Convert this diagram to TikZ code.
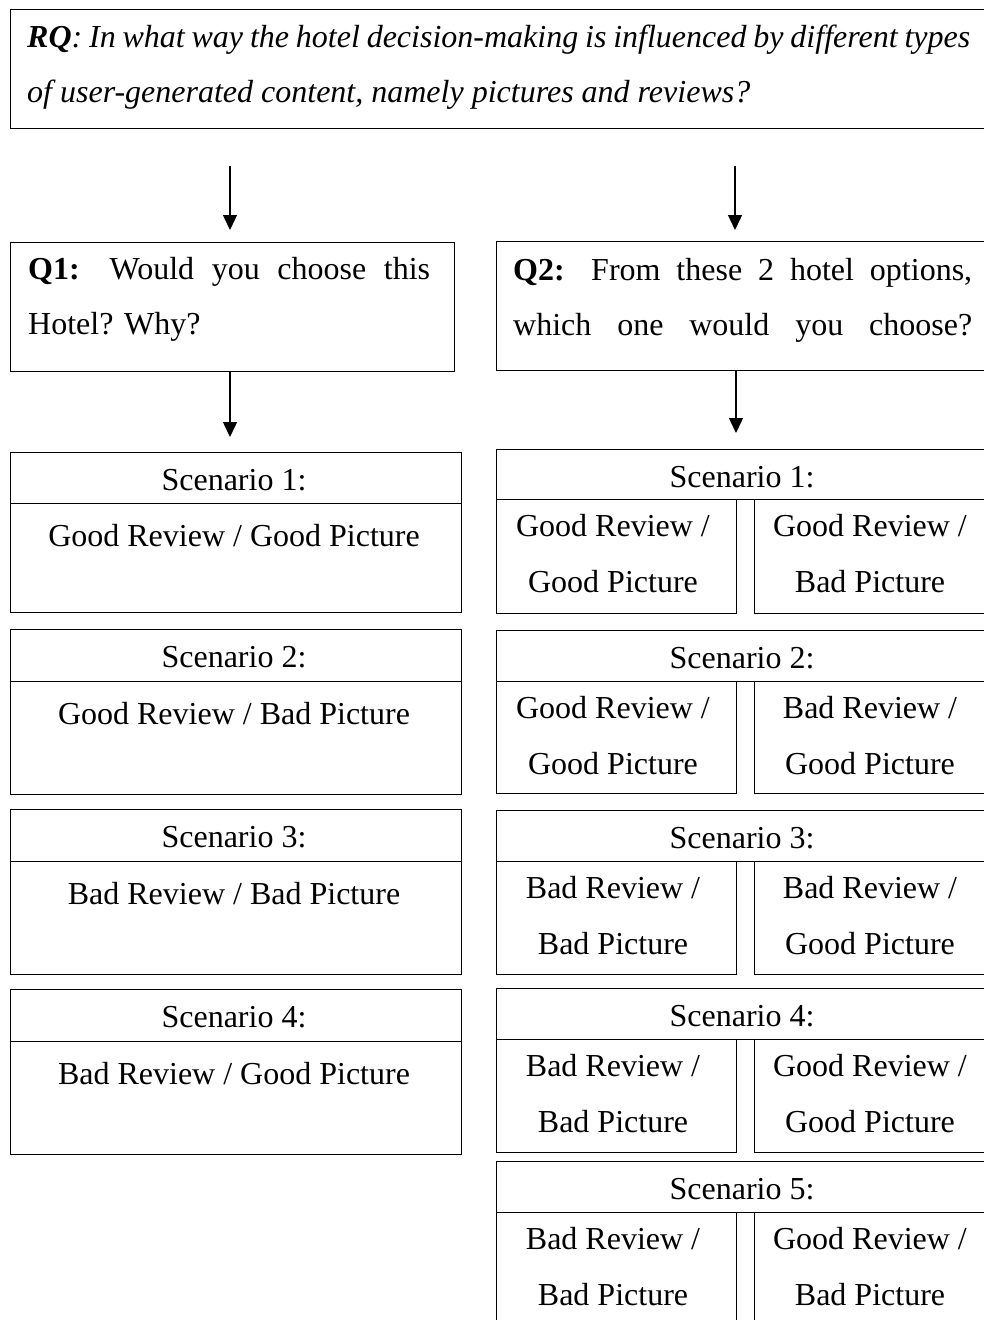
\documentclass[tikz,border=0pt]{standalone}
\usepackage{fontspec}
\setmainfont{Liberation Serif}
\usetikzlibrary{arrows.meta,calc}
\begin{document}
\begin{tikzpicture}[x=1pt,y=-1pt,
  box/.style={draw=black, line width=1.2pt, inner sep=0pt, anchor=north west},
  txt/.style={inner sep=0pt, anchor=base, font=\fontsize{32}{40}\selectfont},
  ltxt/.style={inner sep=0pt, anchor=base west, font=\fontsize{32}{40}\selectfont},
  arr/.style={line width=1.4pt, -{Triangle[width=14pt,length=15pt]}}
]
\useasboundingbox (0,0) rectangle (984,1320);
\fill[white] (0,0) rectangle (984,1320);

% Research question
\node[box, minimum width=980pt, minimum height=119pt] (rq) at (10,9) {};
\node[ltxt] (rqa) at (27,47) {\makebox[943pt][s]{\textbf{\textit{RQ}}\textit{: In what way the hotel decision-making is influenced by different types}}};
\node[ltxt] (rqb) at (27,102) {\textit{of user-generated content, namely pictures and reviews?}};

% Q1 / Q2
\node[box, minimum width=444pt, minimum height=129pt] (q1) at (10,242) {};
\node[ltxt] (q1a) at (28,279) {\makebox[402pt][s]{\textbf{Q1:} Would you choose this}};
\node[ltxt] (q1b) at (28,334) {Hotel? Why?};
\node[box, minimum width=494pt, minimum height=129pt] (q2) at (496,241) {};
\node[ltxt] (q2a) at (513,280) {\makebox[459pt][s]{\textbf{Q2:} From these 2 hotel options,}};
\node[ltxt] (q2b) at (513,335) {\makebox[459pt][s]{which one would you choose?}};

\coordinate (ax1) at (230,0);
\coordinate (ax2) at (735,0);
\coordinate (ax3) at (736,0);

% left column
\newcommand{\LeftScen}[5]{%
  \node[box, minimum width=451pt, minimum height={(#3-#2)*1pt}] (lh#1) at (10,#2) {};
  \node[box, minimum width=451pt, minimum height={(#4-#3)*1pt}] (lb#1) at (10,#3) {};
  \node[txt] (lht#1) at (234,#2+38) {Scenario #1:};
  \node[txt] (lbt#1) at (234,#3+43) {#5};
}
\LeftScen{1}{452}{503}{612}{Good Review / Good Picture}
\LeftScen{2}{629}{681}{794}{Good Review / Bad Picture}
\LeftScen{3}{809}{861}{974}{Bad Review / Bad Picture}
\LeftScen{4}{989}{1041}{1154}{Bad Review / Good Picture}

% right column
\newcommand{\RightScen}[8]{%
  \node[box, minimum width=494pt, minimum height={(#3-#2)*1pt}] (rh#1) at (496,#2) {};
  \node[box, minimum width=240pt, minimum height={(#4-#3)*1pt}] (rl#1) at (496,#3) {};
  \node[box, minimum width=236pt, minimum height={(#4-#3)*1pt}] (rr#1) at (754,#3) {};
  \node[txt] (rht#1) at (742,#2+38) {Scenario #1:};
  \node[txt] (rla#1) at (613,#3+37) {#5};
  \node[txt] (rlb#1) at (613,#3+93) {#6};
  \node[txt] (rra#1) at (870,#3+37) {#7};
  \node[txt] (rrb#1) at (870,#3+93) {#8};
}
\RightScen{1}{449}{499}{613}{Good Review /}{Good Picture}{Good Review /}{Bad Picture}
\RightScen{2}{630}{681}{793}{Good Review /}{Good Picture}{Bad Review /}{Good Picture}
\RightScen{3}{810}{861}{974}{Bad Review /}{Bad Picture}{Bad Review /}{Good Picture}
\RightScen{4}{988}{1039}{1152}{Bad Review /}{Bad Picture}{Good Review /}{Good Picture}
\RightScen{5}{1161}{1212}{1330}{Bad Review /}{Bad Picture}{Good Review /}{Bad Picture}

% arrows
\draw[arr, shorten <=37pt, shorten >=12pt] (rq.south -| ax1) -- (q1.north -| ax1);
\draw[arr, shorten <=37pt, shorten >=11pt] (rq.south -| ax2) -- (q2.north -| ax2);
\draw[arr, shorten >=15pt] (q1.south -| ax1) -- (lh1.north -| ax1);
\draw[arr, shorten >=16pt] (q2.south -| ax3) -- (rh1.north -| ax3);
\end{tikzpicture}
\end{document}
